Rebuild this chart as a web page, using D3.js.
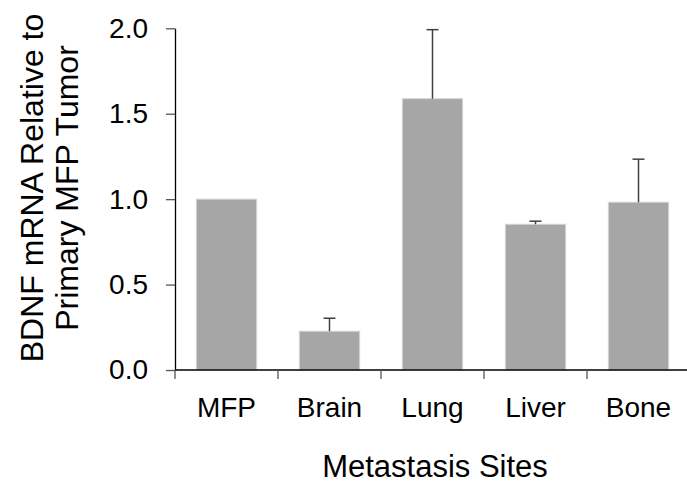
<!DOCTYPE html>
<html>
<head>
<meta charset="utf-8">
<script src="https://cdn.jsdelivr.net/npm/d3@7"></script>
<style>
  body { margin: 0; background: #fff; }
  text { font-family: "Liberation Sans", Arial, sans-serif; fill: #000; }
</style>
</head>
<body>
<div class="container"></div>
<script>
// data
const sites = ["MFP", "Brain", "Lung", "Liver", "Bone"];
const means = [1.0, 0.227, 1.588, 0.853, 0.982];
const errTops = [1.0, 0.303, 1.992, 0.871, 1.234];
const yTicks = [0, 0.5, 1.0, 1.5, 2.0];

const w = 687;
const h = 483;
const plotLeft = 175, plotRight = 690, plotTop = 28.3, plotBottom = 370;

const svg = d3.select(".container")
  .append("svg")
  .attr("width", w)
  .attr("height", h);

// scales
const xScale = d3.scaleBand()
  .domain(sites)
  .range([plotLeft, plotRight])
  .padding(0);

const yScale = d3.scaleLinear()
  .domain([0, 2])
  .range([plotBottom, plotTop]);

const barW = xScale.bandwidth() * 0.585;

// bars
svg.selectAll("rect.bar")
  .data(sites)
  .enter()
  .append("rect")
  .attr("class", "bar")
  .attr("x", d => xScale(d) + (xScale.bandwidth() - barW) / 2)
  .attr("y", (d, i) => yScale(means[i]))
  .attr("width", barW)
  .attr("height", (d, i) => yScale(0) - yScale(means[i]))
  .attr("fill", "#a6a6a6")
  .attr("stroke", "#d4d4d4")
  .attr("stroke-width", 1);

// error bars (upper only)
const err = svg.append("g").attr("stroke", "#404040").attr("stroke-width", 1.5);
sites.forEach((d, i) => {
  if (errTops[i] <= means[i]) return;
  const cx = xScale(d) + xScale.bandwidth() / 2;
  err.append("line")
    .attr("x1", cx).attr("x2", cx)
    .attr("y1", yScale(means[i])).attr("y2", yScale(errTops[i]));
  err.append("line")
    .attr("x1", cx - 6).attr("x2", cx + 6)
    .attr("y1", yScale(errTops[i])).attr("y2", yScale(errTops[i]));
});

// y axis
const yAxis = d3.axisLeft(yScale)
  .tickValues(yTicks)
  .tickFormat(d3.format(".1f"))
  .tickSizeInner(9)
  .tickSizeOuter(0)
  .tickPadding(18);

const yAxisGroup = svg.append("g")
  .attr("transform", `translate(${plotLeft},0)`)
  .call(yAxis);
yAxisGroup.select(".domain").attr("stroke", "#000").attr("stroke-width", 1.3);
yAxisGroup.selectAll(".tick line").attr("stroke", "#555").attr("stroke-width", 1.3);
yAxisGroup.selectAll(".tick text")
  .style("font-family", "'Liberation Sans', Arial, sans-serif")
  .style("font-size", "28px")
  .attr("fill", "#000");

// x axis: line with ticks at category boundaries
const xAxisGroup = svg.append("g").attr("transform", `translate(0,${plotBottom})`);
xAxisGroup.append("line")
  .attr("x1", plotLeft).attr("x2", plotRight)
  .attr("stroke", "#000").attr("stroke-width", 1.3);
const bounds = sites.map(d => xScale(d)).concat([plotRight]);
xAxisGroup.selectAll("line.tick")
  .data(bounds)
  .enter()
  .append("line")
  .attr("class", "tick")
  .attr("x1", d => d).attr("x2", d => d)
  .attr("y1", 0).attr("y2", 9)
  .attr("stroke", "#555").attr("stroke-width", 1.3);
xAxisGroup.selectAll("text")
  .data(sites)
  .enter()
  .append("text")
  .attr("x", d => xScale(d) + xScale.bandwidth() / 2)
  .attr("y", 47)
  .style("font-size", "28px")
  .style("text-anchor", "middle")
  .text(d => d);

// axis titles
svg.append("text")
  .attr("x", 435)
  .attr("y", 477)
  .style("font-size", "31px")
  .style("text-anchor", "middle")
  .text("Metastasis Sites");

const yTitle = svg.append("text")
  .attr("transform", "translate(0,188) rotate(-90)")
  .style("font-size", "32px")
  .style("text-anchor", "middle");
yTitle.append("tspan").attr("x", 0).attr("y", 43).text("BDNF mRNA Relative to");
yTitle.append("tspan").attr("x", 0).attr("y", 78).text("Primary MFP Tumor");
</script>
</body>
</html>
